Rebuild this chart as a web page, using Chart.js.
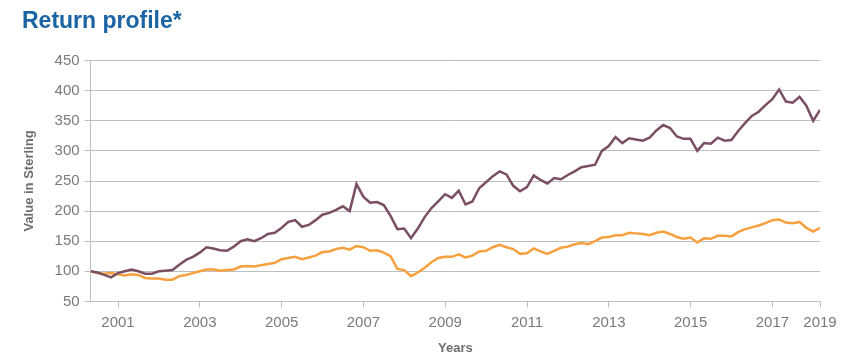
<!DOCTYPE html>
<html>
<head>
<meta charset="utf-8">
<script src="https://cdn.jsdelivr.net/npm/chart.js@4.4.1/dist/chart.umd.min.js"></script>
<style>
  html, body { margin: 0; background: #fff; }
  #wrap { width: 848px; height: 359px; position: relative; }
</style>
</head>
<body>
<div id="wrap"><canvas id="chart"></canvas></div>
<script>
// bi-monthly readings, May 2000 onwards
const startYear = 2000.33;
const stepYears = 1 / 6;

const fundValues = [
  100, 98, 94, 90, 97, 100, 103, 100, 96, 96,
  100, 101, 102, 111, 119, 124, 131, 140, 138, 135,
  134, 141, 150, 153, 150, 155, 162, 164, 172, 182,
  185, 174, 177, 185, 194, 197, 202, 208, 200, 245,
  224, 214, 215, 210, 192, 170, 171, 155, 171, 190,
  205, 216, 228, 222, 234, 211, 216, 238, 248, 258,
  266, 261, 242, 233, 240, 259, 252, 246, 255, 253,
  260, 266, 273, 275, 277, 300, 308, 323, 313, 321,
  319, 317, 322, 334, 343, 338, 324, 320, 320, 300,
  313, 312, 322, 317, 318, 333, 346, 358, 365, 376,
  386, 402, 382, 380, 390, 375, 350, 368
];

const indexValues = [
  100, 97, 96, 97, 95, 93, 95, 94, 89, 88,
  88, 86, 86, 92, 94, 97, 100, 103, 103, 101,
  102, 103, 108, 109, 108, 110, 112, 114, 120, 122,
  124, 120, 123, 126, 132, 133, 137, 139, 136, 142,
  140, 134, 135, 131, 125, 104, 102, 92, 98, 106,
  115, 122, 124, 124, 128, 123, 126, 133, 134, 140,
  144, 140, 137, 129, 130, 138, 133, 129, 134, 139,
  141, 145, 147, 145, 150, 156, 157, 160, 160, 164,
  163, 162, 160, 164, 166, 162, 157, 154, 156, 148,
  155, 154, 159, 159, 158, 165, 170, 173, 176, 180,
  185, 186, 181, 180, 182, 172, 166, 172
];

const tickYears = [2001, 2003, 2005, 2007, 2009, 2011, 2013, 2015, 2017];
const tickLabels = ['2001', '2003', '2005', '2007', '2009', '2011', '2013', '2015', '2017', '2019'];

const toPoints = vals => vals.map((v, i) => ({ x: startYear + i * stepYears, y: v }));
const endYear = startYear + (fundValues.length - 1) * stepYears;

const gridGrey = '#bfbfbf';
const textGrey = '#7a7a7a';
const fontFamily = '"Liberation Sans", Arial, sans-serif';

new Chart(document.getElementById('chart'), {
  type: 'line',
  data: {
    datasets: [
      { label: 'Fund', data: toPoints(fundValues), borderColor: '#7b4f63', borderWidth: 2.5, pointRadius: 0, tension: 0 },
      { label: 'Index', data: toPoints(indexValues), borderColor: '#f6a03e', borderWidth: 2.5, pointRadius: 0, tension: 0 }
    ]
  },
  options: {
    responsive: true,
    maintainAspectRatio: false,
    animation: false,
    layout: { padding: { left: 22, right: 28, top: 2, bottom: 3 } },
    plugins: {
      legend: { display: false },
      tooltip: { enabled: false },
      title: {
        display: true,
        text: 'Return profile*',
        align: 'start',
        color: '#1b64a3',
        font: { family: fontFamily, size: 23, weight: 'bold' },
        padding: { top: 6, bottom: 25 }
      }
    },
    scales: {
      x: {
        type: 'linear',
        min: startYear,
        max: endYear,
        afterBuildTicks: axis => {
          axis.ticks = tickYears.map(v => ({ value: v })).concat([{ value: endYear }]);
        },
        ticks: {
          autoSkip: false,
          maxRotation: 0,
          color: textGrey,
          font: { family: fontFamily, size: 15 },
          padding: 6,
          callback: (v, i) => tickLabels[i]
        },
        grid: { drawOnChartArea: false, color: gridGrey, tickLength: 6 },
        border: { color: gridGrey },
        title: {
          display: true,
          text: 'Years',
          color: '#6e6e6e',
          font: { family: fontFamily, size: 13, weight: 'bold' },
          padding: { top: 3, bottom: 0 }
        }
      },
      y: {
        min: 50,
        max: 450,
        ticks: {
          stepSize: 50,
          color: textGrey,
          font: { family: fontFamily, size: 15 },
          padding: 5
        },
        grid: { color: gridGrey, tickLength: 6 },
        border: { color: gridGrey },
        title: {
          display: true,
          text: 'Value in Sterling',
          color: '#6e6e6e',
          font: { family: fontFamily, size: 13, weight: 'bold' },
          padding: { top: 0, bottom: 12 }
        }
      }
    }
  }
});
</script>
</body>
</html>
